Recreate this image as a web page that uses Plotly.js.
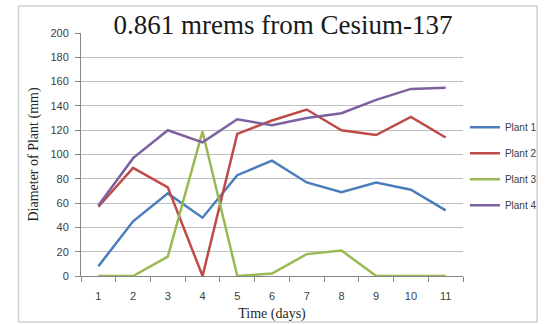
<!DOCTYPE html>
<html><head><meta charset="utf-8">
<script src="https://cdn.plot.ly/plotly-3.0.1.min.js"></script>
<style>html,body{margin:0;padding:0;background:#fff;}#chart{width:554px;height:324px;}</style>
</head><body><div id="chart"></div>
<script>
const days = ["1","2","3","4","5","6","7","8","9","10","11"];
const plant1 = [8, 45, 68, 48, 83, 95, 77, 69, 77, 71, 54];
const plant2 = [57, 89, 73, 0, 117, 128, 137, 120, 116, 131, 114];
const plant3 = [0, 0, 16, 119, 0, 2, 18, 21, 0, 0, 0];
const plant4 = [58, 97, 120, 110, 129, 124, 130, 134, 145, 154, 155];
const names = ["Plant 1","Plant 2","Plant 3","Plant 4"];
const colors = ["#4a7ebb","#be4b48","#98b954","#7d60a0"];
const series = [plant1, plant2, plant3, plant4];

const traces = series.map((s,i)=>({
  x: days, y: s, type:'scatter', mode:'lines', name: names[i],
  line:{color:colors[i], width:2.5}, legendgroup:'g'+i
}));

const serif = 'Liberation Serif, Times New Roman, serif';
const sans = 'Liberation Sans, Arial, sans-serif';
const layout = {
  width:554, height:324,
  margin:{l:81, r:82, t:33, b:48},
  paper_bgcolor:'#fff', plot_bgcolor:'#fff',
  title:{text:'0.861 mrems from Cesium-137', font:{family:serif, size:27, color:'#1a1a1a'},
         x:0.511, xanchor:'center', y:0.925, yanchor:'middle'},
  xaxis:{type:'category', range:[-0.5, 10.5], tickson:'boundaries', ticks:'outside', ticklen:5, tickcolor:'#868686',
         showline:true, linecolor:'#868686', linewidth:1, showgrid:false, zeroline:false,
         ticklabelstandoff:10,
         tickfont:{family:sans, size:11, color:'#404040'},
         title:{text:'Time (days)', font:{family:serif, size:14, color:'#262626'}, standoff:6}},
  yaxis:{range:[0,200], dtick:20, ticks:'outside', ticklen:5, tickcolor:'#868686',
         showline:true, linecolor:'#868686', linewidth:1, gridcolor:'#bfbfbf', gridwidth:1, zeroline:false,
         ticklabelstandoff:4,
         tickfont:{family:sans, size:11, color:'#404040'},
         title:{text:'Diameter of Plant (mm)', font:{family:serif, size:14, color:'#262626'}, standoff:8}},
  legend:{x:1.005, xanchor:'left', y:0.672, yanchor:'top', font:{family:sans, size:10, color:'#404040'},
          traceorder:'grouped', tracegroupgap:7, itemwidth:30, bgcolor:'rgba(0,0,0,0)'},
  shapes:[{type:'rect', xref:'paper', yref:'paper', x0:-0.1637, x1:1.194, y0:-0.189, y1:1.111,
           line:{color:'#d0d0d0', width:1.5}, fillcolor:'rgba(0,0,0,0)', layer:'below'}]
};
Plotly.newPlot('chart', traces, layout, {displayModeBar:false, staticPlot:true});
</script></body></html>
